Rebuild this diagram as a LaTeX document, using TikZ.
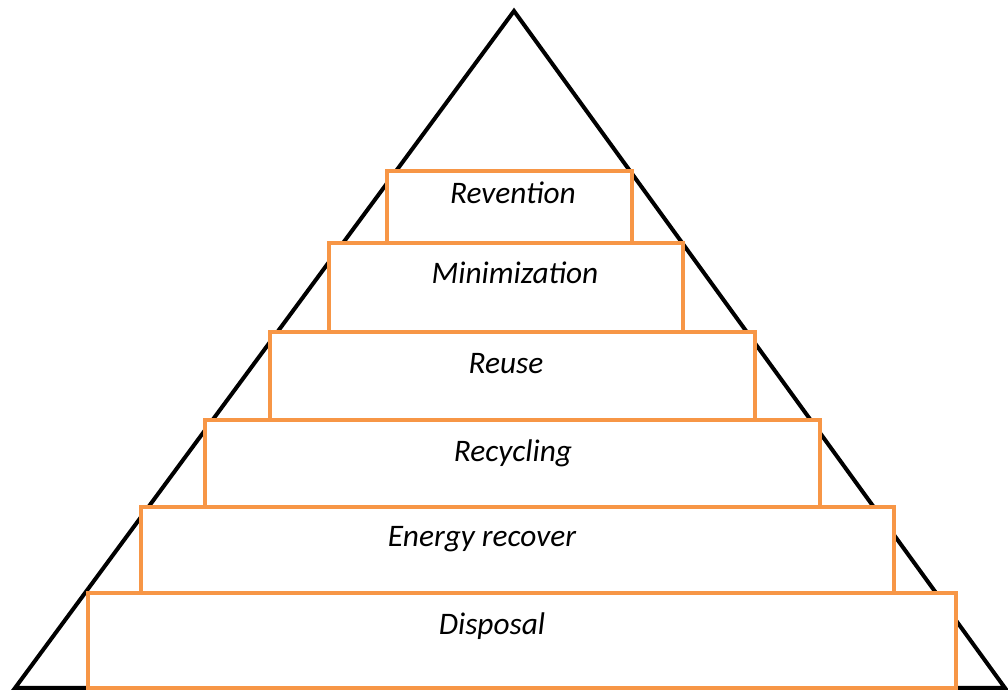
\documentclass[tikz,border=0pt]{standalone}
\usepackage{fontspec}
\setmainfont{Carlito}
\begin{document}
\begin{tikzpicture}[x=0.75pt,y=-0.75pt,
  tri/.style={draw=black,line width=3pt,line join=miter},
  tier/.style={draw={rgb,255:red,247;green,150;blue,70},fill=white,line width=3pt},
  lbl/.style={font=\itshape\fontsize{23.5}{26}\selectfont,anchor=base}]
\useasboundingbox (0,0) rectangle (1008,691);
\coordinate (apex) at (514,11);
\coordinate (bl) at (15,688);
\coordinate (br) at (1005,688);
\draw[tri] (bl) -- (apex) -- (br) -- cycle;
\draw[tier] (88,593) rectangle (956,688);
\draw[tier] (141,507) rectangle (894,593);
\draw[tier] (205,420) rectangle (820,507);
\draw[tier] (270,332) rectangle (755,420);
\draw[tier] (329,243) rectangle (683,332);
\draw[tier] (387,171) rectangle (632,243);
\node[lbl] (n1) at (513,204) {Revention};
\node[lbl] (n2) at (515,284) {Minimization};
\node[lbl] (n3) at (506,374) {Reuse};
\node[lbl] (n4) at (513,462) {Recycling};
\node[lbl] (n5) at (482,547) {Energy recover};
\node[lbl] (n6) at (492,635) {Disposal};
\end{tikzpicture}
\end{document}
